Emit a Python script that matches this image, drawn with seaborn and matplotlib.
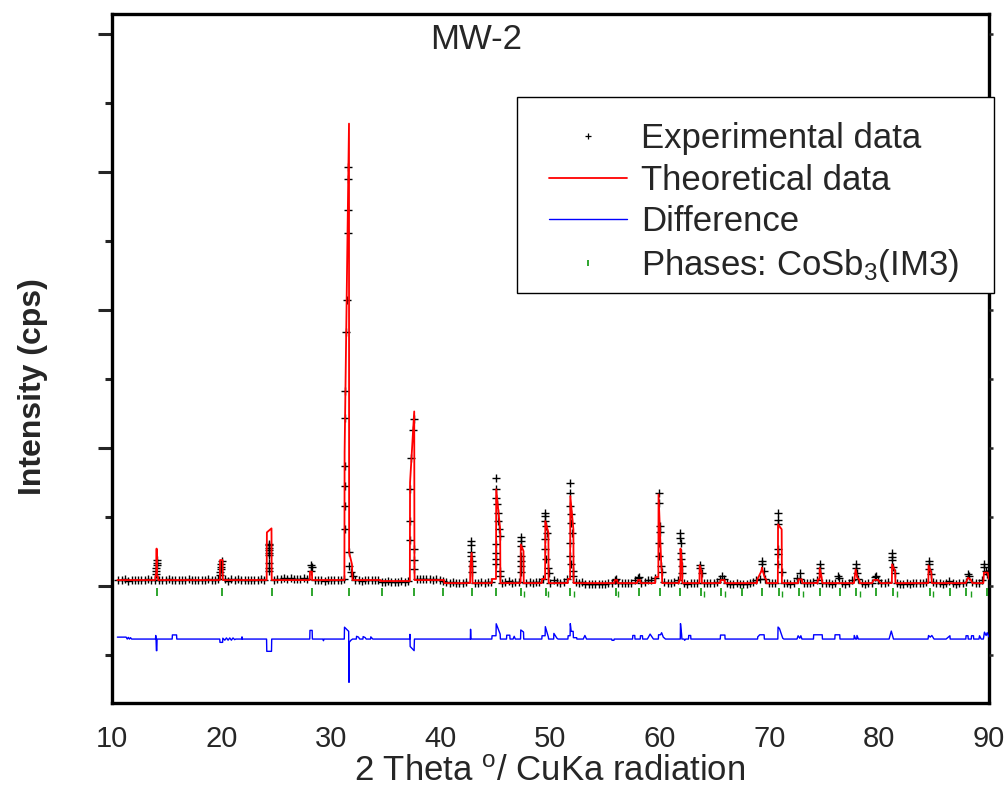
import pandas as pd
import matplotlib
matplotlib.use("Agg")
import matplotlib.pyplot as plt
import seaborn as sns
from matplotlib.ticker import MultipleLocator
from matplotlib.lines import Line2D
from matplotlib.patches import Rectangle

# Experimental points on the background (read segment by segment)
base_x = [10.6, 10.9, 11.2, 11.5, 11.8, 12.1, 12.4, 12.7, 13.0, 13.3, 13.6, 13.9,
          14.3, 14.6, 14.9, 15.2, 15.5, 15.8, 16.1, 16.4, 16.7, 17.0, 17.3, 17.6, 17.9, 18.2, 18.5, 18.8, 19.1, 19.4, 19.7,
          20.3, 20.6, 20.9, 21.2, 21.5, 21.8, 22.1, 22.4, 22.7, 23.0, 23.3, 23.6, 23.9,
          24.8, 25.1, 25.4, 25.7, 26.0, 26.3, 26.6, 26.9, 27.2, 27.5, 27.8,
          28.5, 28.8, 29.1, 29.4, 29.7, 30.0, 30.3, 30.6, 30.9, 31.2,
          32.2, 32.5, 32.8, 33.1, 33.4, 33.7, 34.0, 34.3, 34.6, 34.9, 35.2, 35.5, 35.8, 36.1, 36.4, 36.7, 37.0,
          37.8, 38.1, 38.4, 38.7, 39.0, 39.3, 39.6, 39.9, 40.2, 40.5, 40.8, 41.1, 41.4, 41.7, 42.0, 42.3,
          43.1, 43.4, 43.7, 44.0, 44.3, 44.6,
          45.6, 45.9, 46.2, 46.5, 46.8, 47.1,
          47.8, 48.1, 48.4, 48.7, 49.0, 49.3,
          50.0, 50.3, 50.6, 50.9, 51.2, 51.5,
          52.3, 52.6, 52.9, 53.2, 53.5, 53.8, 54.1, 54.4, 54.7, 55.0, 55.3, 55.6, 55.9, 56.2, 56.5, 56.8, 57.1, 57.4, 57.7, 58.0, 58.3, 58.6, 58.9, 59.2, 59.5,
          60.4, 60.7, 61.0, 61.3, 61.6,
          62.2, 62.5, 62.8, 63.1, 63.4,
          64.0, 64.3, 64.6, 64.9, 65.2, 65.5, 65.8, 66.1, 66.4, 66.7, 67.0, 67.3, 67.6, 67.9, 68.2, 68.5, 68.8, 69.1,
          69.6, 69.9, 70.2, 70.5,
          71.3, 71.6, 71.9, 72.2, 72.5, 72.8, 73.1, 73.4, 73.7, 74.0, 74.3,
          74.8, 75.1, 75.4, 75.7, 76.0, 76.3, 76.6, 76.9, 77.2, 77.5,
          78.1, 78.4, 78.7, 79.0, 79.3, 79.6, 79.9, 80.2, 80.5, 80.8,
          81.6, 81.9, 82.2, 82.5, 82.8, 83.1, 83.4, 83.7, 84.0, 84.3,
          84.9, 85.2, 85.5, 85.8, 86.1, 86.4, 86.7, 87.0, 87.3, 87.6, 87.9, 88.2, 88.5, 88.8, 89.1, 89.4]
base_y = [44, 40, 47, 38, 46, 42, 45, 40, 43, 48, 41, 45,
          40, 46, 43, 50, 44, 41, 46, 39, 44, 47, 42, 45, 40, 46, 43, 48, 41, 44, 47,
          50, 38, 52, 40, 47, 44, 42, 46, 40, 45, 43, 47, 44,
          45, 52, 50, 55, 52, 54, 50, 53, 49, 55, 51,
          45, 40, 43, 38, 46, 42, 44, 40, 45, 48,
          40, 46, 38, 44, 41, 45, 40, 43, 30, 28, 32, 27, 31, 29, 33, 30, 34,
          50, 48, 52, 47, 50, 46, 49, 45, 38, 25, 22, 26, 20, 24, 21, 25,
          24, 20, 26, 22, 25, 30,
          22, 28, 35, 24, 30, 25,
          22, 26, 20, 25, 28, 48,
          24, 40, 26, 22, 27, 48,
          30, 22, 26, 12, 14, 10, 13, 11, 12, 15, 20, 24, 46, 22, 18, 21, 24, 19, 40, 55, 22, 25, 40, 45, 60,
          30, 24, 20, 26, 42,
          22, 14, 24, 18, 22,
          20, 24, 18, 22, 26, 50, 48, 22, 12, 14, 20, 10, 12, 15, 22, 25, 46, 50,
          48, 20, 24, 22,
          24, 20, 14, 22, 60, 50, 24, 20, 22, 26, 45,
          24, 18, 22, 14, 20, 60, 18, 12, 24, 40,
          48, 22, 14, 20, 24, 62, 45, 18, 22, 26,
          22, 12, 16, 20, 14, 22, 18, 24, 20, 26,
          28, 20, 22, 14, 18, 35, 22, 16, 20, 24, 30, 70, 25, 18, 22, 40]

# Experimental points on the reflections
peak_x = [14.05, 14.06, 14.06, 14.07, 14.07, 14.08,
          19.88, 19.9, 19.92, 19.95, 19.98, 20.02,
          24.3, 24.3, 24.31, 24.32, 24.32, 24.33, 24.34, 24.34, 24.35,
          28.12, 28.18, 28.24,
          31.23, 31.23, 31.23, 31.24, 31.27, 31.3, 31.38, 31.41, 31.5, 31.53, 31.56, 31.58, 31.66, 31.67, 31.8, 31.95,
          37.2, 37.2, 37.21, 37.33, 37.48, 37.54, 37.59, 37.59, 37.6,
          42.78, 42.79, 42.8, 42.8, 42.81, 42.82, 42.83,
          45.04, 45.05, 45.05, 45.13, 45.18, 45.24, 45.32, 45.4, 45.05, 45.05, 45.06, 45.06, 45.43, 45.43,
          47.3, 47.3, 47.31, 47.31, 47.32, 47.33, 47.34,
          49.54, 49.54, 49.55, 49.6, 49.7, 49.55, 49.55, 49.56, 49.82, 49.83,
          51.82, 51.82, 51.83, 51.84, 51.9, 51.98, 51.83, 51.83, 51.84, 52.1, 52.11,
          59.87, 59.88, 59.98, 60.02, 59.88, 59.88, 60.12, 60.15,
          61.87, 61.87, 61.88, 61.88, 61.9, 62.0, 62.02,
          63.62, 63.63, 63.8,
          69.28, 69.3, 69.45,
          70.77, 70.78, 70.78, 70.78, 70.79, 70.8, 71.1,
          74.56, 74.56, 74.6,
          77.84, 77.85, 77.95,
          81.16, 81.17, 81.18, 81.3, 81.45,
          84.5, 84.5, 84.55, 84.7,
          89.56, 89.57, 89.7, 89.85,
          56.0, 58.1, 65.7, 72.75, 76.2, 79.7, 88.1]
peak_y = [89, 107, 129, 149, 168, 187,
          81, 100, 120, 136, 156, 180,
          107, 132, 168, 221, 241, 257, 274, 294, 305,
          110, 150, 135,
          409, 576, 721, 866, 1214, 1410, 1845, 2070, 2556, 2729, 2954, 3041, 243, 141, 98, 69,
          332, 470, 705, 929, 1127, 1212, 270, 185, 125,
          325, 296, 245, 216, 180, 144, 100,
          785, 700, 640, 591, 531, 470, 410, 361, 301, 241, 192, 156, 107, 71,
          357, 325, 289, 216, 180, 144, 100,
          531, 506, 470, 434, 386, 337, 265, 192, 132, 96,
          748, 676, 579, 518, 458, 386, 313, 216, 156, 107, 71,
          676, 598, 434, 390, 313, 216, 144, 100,
          386, 349, 313, 241, 192, 144, 96,
          149, 132, 96,
          180, 156, 107,
          530, 480, 446, 265, 228, 156, 98,
          156, 132, 96,
          160, 132, 96,
          236, 212, 187, 139, 96,
          180, 156, 120, 83,
          160, 134, 107, 83,
          50, 62, 71, 95, 70, 71, 83]

# Calculated profile
calc_x = [10.5, 13.95, 13.97, 14.06, 14.07, 14.09, 14.1, 14.2, 14.22,
          19.85, 19.87, 20.1, 20.12,
          24.12, 24.14, 24.56, 24.58,
          28.05, 28.07, 28.25, 28.27,
          31.21, 31.23, 31.63, 31.64, 31.9, 31.95,
          34.5, 34.52, 37.18, 37.2, 37.58, 37.6, 37.62,
          40.3, 40.32,
          42.68, 42.7, 42.82, 42.88, 42.9,
          44.66, 44.68, 45.04, 45.06, 45.42, 45.44,
          47.28, 47.3, 47.55, 47.57,
          49.22, 49.24, 49.52, 49.54, 49.82, 49.84,
          51.58, 51.6, 51.8, 51.82, 52.1, 52.12,
          55.85, 55.87, 56.1, 56.12,
          57.9, 58.0, 58.2, 58.22,
          59.56, 59.58, 59.85, 59.87, 60.12, 60.18, 60.2,
          61.73, 61.75, 61.85, 61.87, 62.02, 62.04,
          63.6, 63.62, 63.8, 63.82,
          65.5, 65.52, 65.9, 65.92,
          68.85, 68.87, 69.25, 69.3, 69.55, 69.7, 69.72,
          70.75, 70.77, 71.1, 71.12,
          72.6, 72.62, 72.95, 72.97,
          74.38, 74.4, 74.55, 74.57, 74.75, 74.8,
          77.7, 77.72, 77.85, 78.0, 78.2, 78.22,
          79.35, 79.5, 79.9, 80.1,
          81.15, 81.17, 81.45, 81.48,
          84.48, 84.5, 84.75, 84.8,
          87.9, 88.1, 88.35, 88.5,
          89.5, 89.55, 89.9, 90.0]
calc_y = [42, 42, 69, 98, 270, 270, 75, 70, 42,
          42, 187, 187, 42,
          42, 388, 417, 42,
          42, 103, 103, 42,
          42, 968, 3353, 243, 156, 42,
          42, 35, 35, 750, 1265, 120, 42,
          42, 20,
          20, 144, 240, 120, 20,
          20, 50, 50, 700, 410, 20,
          20, 300, 252, 20,
          20, 50, 50, 470, 386, 20,
          20, 50, 50, 651, 410, 20,
          20, 42, 42, 20,
          20, 42, 42, 20,
          20, 64, 64, 663, 144, 100, 20,
          20, 40, 40, 270, 156, 20,
          20, 149, 100, 20,
          20, 42, 42, 20,
          20, 45, 107, 132, 60, 45, 20,
          20, 446, 410, 20,
          20, 47, 47, 20,
          20, 47, 47, 130, 60, 20,
          20, 40, 120, 60, 40, 20,
          20, 43, 43, 20,
          20, 156, 107, 20,
          20, 149, 96, 20,
          20, 59, 45, 20,
          20, 96, 96, 50]

# Difference curve (shifted below the pattern)
diff_x = [10.5, 11.3, 11.4, 11.5, 11.6, 11.7, 11.8,
          13.98, 14.0, 14.03, 14.06, 14.1, 14.12,
          15.5, 15.52, 15.9, 15.92,
          19.84, 19.86, 20.1, 20.12, 20.3, 20.45, 20.6, 20.75, 20.9, 21.05, 21.2, 21.3,
          21.85, 21.87, 21.9,
          24.11, 24.13, 24.56, 24.58,
          28.05, 28.07, 28.27, 28.29,
          29.25, 29.3, 29.35,
          31.2, 31.22, 31.6, 31.63, 31.65, 31.8, 31.95,
          32.3, 32.32, 32.5, 32.6, 32.9, 32.92, 33.1, 33.2, 33.6, 33.62, 33.8,
          37.17, 37.19, 37.21, 37.57, 37.6,
          42.7, 42.72, 42.76,
          44.66, 44.68, 45.04, 45.06, 45.42, 45.44,
          46.0, 46.02, 46.3, 46.32, 46.6, 46.7, 46.8,
          47.28, 47.3, 47.55, 47.57,
          49.22, 49.24, 49.52, 49.54, 49.82, 49.84,
          50.3, 50.32, 50.6, 50.7,
          51.6, 51.62, 51.8, 51.82, 51.9, 52.08, 52.1, 52.4, 52.42,
          53.0, 53.15, 53.3,
          55.6, 55.62, 55.8, 55.82,
          57.5, 57.52, 57.7, 57.72, 58.2, 58.22, 58.4, 58.42,
          58.85, 59.1, 59.4,
          59.85, 59.87, 60.05, 60.15, 60.3, 60.5,
          61.85, 61.87, 61.97, 62.0,
          62.2, 62.25, 62.35, 62.6, 62.62, 62.8, 62.82,
          65.5, 65.52, 65.92, 65.94,
          68.9, 68.92, 69.1, 69.5, 69.52,
          70.75, 70.77, 70.9, 71.2, 71.3,
          72.5, 72.6, 72.75, 72.85, 72.95,
          74.0, 74.02, 74.8, 74.82,
          75.95, 75.97, 76.4, 76.42,
          77.7, 77.72, 77.85, 77.95, 77.97, 78.1,
          80.9, 81.1, 81.3,
          84.45, 84.5, 84.65, 84.8, 85.0,
          86.1, 86.45, 86.47,
          87.9, 87.92, 88.1, 88.12, 88.4, 88.42, 88.6, 88.62,
          89.1, 89.15, 89.3, 89.5, 89.6, 89.75, 89.85, 90.0]
diff_y = [-372, -372, -386, -374, -386, -376, -386,
          -386, -360, -386, -470, -470, -386,
          -386, -356, -356, -386,
          -386, -410, -410, -380, -394, -378, -394, -378, -394, -378, -390, -386,
          -386, -370, -386,
          -386, -475, -475, -386,
          -386, -323, -323, -386,
          -386, -398, -386,
          -386, -300, -330, -700, -410, -395, -386,
          -386, -366, -372, -386, -386, -368, -375, -386, -386, -370, -386,
          -386, -352, -440, -470, -386,
          -386, -315, -386,
          -386, -362, -362, -275, -350, -386,
          -386, -358, -358, -386, -386, -366, -386,
          -386, -320, -335, -386,
          -386, -362, -362, -296, -372, -386,
          -386, -345, -380, -386,
          -386, -362, -362, -274, -330, -330, -376, -376, -386,
          -386, -360, -386,
          -386, -395, -395, -386,
          -386, -360, -360, -386, -386, -362, -362, -386,
          -386, -350, -386,
          -386, -355, -355, -340, -372, -386,
          -386, -274, -350, -386,
          -386, -395, -386, -386, -360, -360, -386,
          -386, -357, -357, -386,
          -386, -370, -355, -355, -386,
          -386, -299, -310, -380, -386,
          -386, -362, -380, -362, -386,
          -386, -355, -355, -386,
          -386, -355, -355, -386,
          -386, -360, -386, -386, -360, -386,
          -386, -328, -386,
          -386, -360, -372, -360, -386,
          -386, -362, -386,
          -386, -362, -362, -386, -386, -362, -362, -386,
          -386, -362, -386, -386, -336, -360, -340, -370]

# CoSb3 reflection positions (K-alpha1 and the weaker K-alpha2 partners)
phase_pos = [14.08, 20.05, 24.57, 28.24, 31.63, 34.63, 37.58, 40.20, 42.81, 45.07,
             47.32, 49.59, 51.83, 56.03, 58.10, 60.00, 61.87, 63.76, 65.59, 67.44,
             69.33, 70.85, 72.68, 74.57, 76.39, 77.85, 79.74, 81.26, 84.61, 86.44,
             87.96, 89.79]
phase_k2 = [47.63, 49.82, 52.19, 56.21, 64.06, 65.95, 71.16, 73.04, 78.21, 81.59,
            84.95, 88.33]

sns.set_style("ticks")
plt.rcParams["font.family"] = ["Liberation Sans", "DejaVu Sans"]
plt.rcParams["mathtext.fontset"] = "custom"
plt.rcParams["mathtext.rm"] = "Liberation Sans"
plt.rcParams["mathtext.it"] = "Liberation Sans:italic"

fig = plt.figure(figsize=(10.08, 8.09), dpi=100)
ax = fig.add_axes([0.111, 0.131, 0.870, 0.852])

green = "#1e9e1e"
exp_df = pd.DataFrame({"two_theta": base_x + peak_x, "counts": base_y + peak_y})
sns.scatterplot(data=exp_df, x="two_theta", y="counts", marker="+", s=30,
                color="black", linewidth=1.0, legend=False, ax=ax, zorder=2)
sns.lineplot(x=calc_x, y=calc_y, sort=False, estimator=None, color="red",
             linewidth=1.3, ax=ax, zorder=3)
sns.lineplot(x=diff_x, y=diff_y, sort=False, estimator=None, color="blue",
             linewidth=1.0, ax=ax, zorder=3)
sns.scatterplot(x=phase_pos, y=[-47] * len(phase_pos), marker="|", s=36,
                color=green, linewidth=1.3, legend=False, ax=ax, zorder=3)
sns.scatterplot(x=phase_k2, y=[-58] * len(phase_k2), marker="|", s=14,
                color=green, linewidth=1.0, legend=False, ax=ax, zorder=3)

ax.set_xlim(10, 90)
ax.set_ylim(-850, 4150)
ax.set_xticks(range(10, 91, 10))
ax.yaxis.set_major_locator(MultipleLocator(1000))
ax.yaxis.set_minor_locator(MultipleLocator(500))
ax.tick_params(axis="x", length=0, pad=16, labelsize=21)
ax.tick_params(axis="y", which="major", direction="out", length=10, width=2.2, labelleft=False)
ax.tick_params(axis="y", which="minor", direction="out", length=5, width=2.2)
for s in ax.spines.values():
    s.set_linewidth(2.4)
    s.set_color("black")

ax2 = ax.twinx()
ax2.set_ylim(ax.get_ylim())
ax2.yaxis.set_major_locator(MultipleLocator(1000))
ax2.yaxis.set_minor_locator(MultipleLocator(500))
ax2.tick_params(axis="y", which="both", direction="out", length=3, width=1.8, labelright=False)
for s in ax2.spines.values():
    s.set_visible(False)

ax.set_xlabel(r"2 Theta $^{\mathrm{o}}$/ CuKa radiation", fontsize=25)
ax.xaxis.set_label_coords(0.499, -0.075)
ax.set_ylabel("Intensity (cps)", fontsize=23, fontweight="bold")
ax.yaxis.set_label_coords(-0.073, 0.459)

ax.text(0.415, 0.962, "MW-2", transform=ax.transAxes, ha="center", va="center", fontsize=25)

# legend frame drawn separately so its padding can match the original
fig.patches.append(Rectangle((517 / 1008, 1 - 293 / 809), (994 - 517) / 1008, 196 / 809,
                             transform=fig.transFigure, facecolor="white",
                             edgecolor="black", linewidth=1.0, zorder=4))
handles = [
    Line2D([], [], marker="+", linestyle="", color="black", markersize=4, markeredgewidth=0.9),
    Line2D([], [], color="red", linewidth=1.3),
    Line2D([], [], color="blue", linewidth=1.0),
    Line2D([], [], marker="|", linestyle="", color=green, markersize=5, markeredgewidth=1.3),
]
labels = ["Experimental data", "Theoretical data", "Difference", r"Phases: CoSb$_3$(IM3)"]
leg = fig.legend(handles, labels, loc="upper left", bbox_to_anchor=(549 / 1008, 1 - 122 / 809),
                 fontsize=25, frameon=False, borderpad=0, handlelength=2.25,
                 handletextpad=0.4, labelspacing=0.25, borderaxespad=0)
leg.set_zorder(6)

fig.savefig("out.png", dpi=100)
